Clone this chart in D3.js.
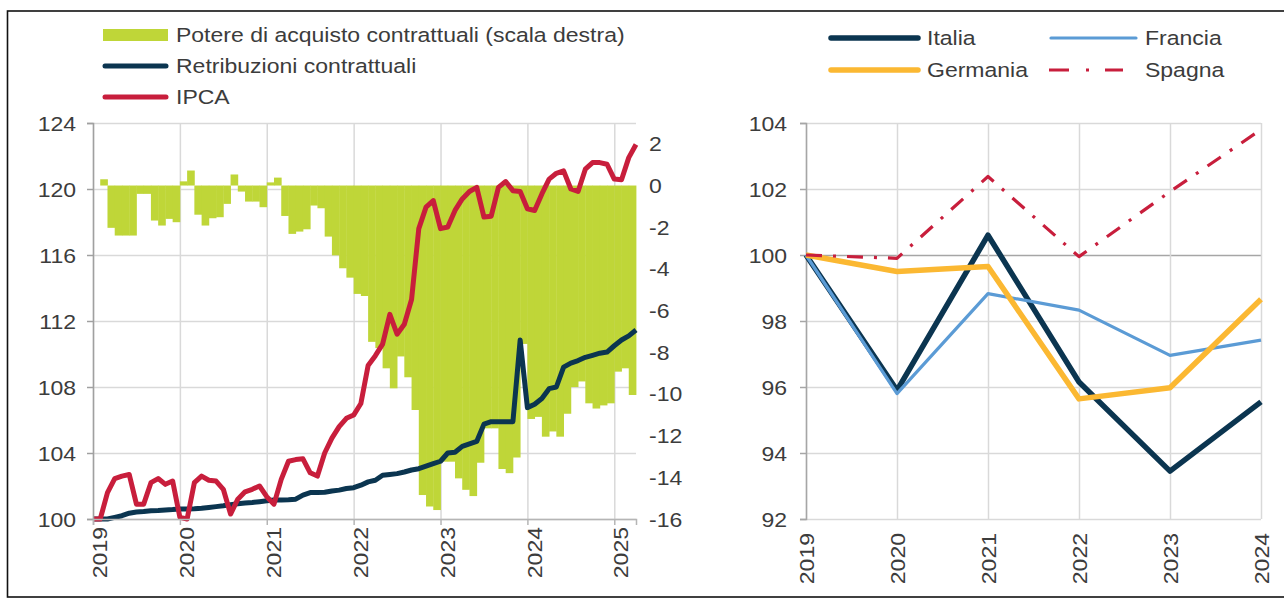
<!DOCTYPE html>
<html><head><meta charset="utf-8">
<script src="https://cdn.jsdelivr.net/npm/d3@7"></script>
<style>
body{margin:0;background:#fff}
svg{display:block}
text{font-family:"Liberation Sans",Arial,sans-serif;}
</style>
</head><body>
<svg id="c" width="1284" height="601"></svg>
<script>
// ---------- DATA: left chart (monthly, Jan 2019 - Apr 2025) ----------
const leftYears = [2019, 2020, 2021, 2022, 2023, 2024, 2025];
const leftTicks = [100, 104, 108, 112, 116, 120, 124];
const rightTicks = [-16, -14, -12, -10, -8, -6, -4, -2, 0, 2];

const ipca = [
  100.0, 100.0, 101.6, 102.45, 102.6, 102.7, 100.9, 100.9, 102.2, 102.45, 102.1, 102.3,
  100.1, 100.0, 102.2, 102.6, 102.35, 102.3, 101.8, 100.3, 101.2, 101.65, 101.8, 102.0,
  101.35, 100.9, 102.4, 103.5, 103.6, 103.65, 102.8, 102.6, 104.0, 104.9, 105.6, 106.1,
  106.3, 107.0, 109.3, 109.9, 110.6, 112.4, 111.2, 111.8, 113.3, 117.6, 118.9, 119.3,
  117.6, 117.7, 118.7, 119.4, 119.85, 120.1, 118.3, 118.35, 120.1, 120.45, 119.9, 119.85,
  118.8, 118.7, 119.7, 120.6, 120.95, 121.1, 120.0, 119.85, 121.2, 121.6, 121.6, 121.5,
  120.6, 120.56, 121.9, 122.7
];
const retribuzioni = [
  100.0, 100.0, 100.0, 100.1, 100.2, 100.35, 100.42, 100.45, 100.5, 100.52, 100.55, 100.57,
  100.6, 100.6, 100.62, 100.65, 100.7, 100.75, 100.8, 100.87, 100.93, 100.97, 101.0, 101.05,
  101.1, 101.15, 101.15, 101.17, 101.2, 101.45, 101.6, 101.6, 101.62, 101.7, 101.75, 101.85,
  101.9, 102.05, 102.25, 102.35, 102.65, 102.7, 102.75, 102.85, 102.97, 103.05, 103.2, 103.35,
  103.5, 104.0, 104.05, 104.4, 104.55, 104.7, 105.75, 105.9, 105.9, 105.9, 105.9, 110.85,
  106.75, 106.95, 107.3, 107.9, 108.0, 109.2, 109.45, 109.6, 109.8, 109.92, 110.05, 110.12,
  110.5, 110.85, 111.1, 111.45
];
// purchasing power (right scale), Jan 2019 - Mar 2025
const potere = [
  0, 0.3, -2.03, -2.4, -2.4, -2.4, -0.4, -0.4, -1.68, -1.92, -1.6, -1.76,
  0.2, 0.72, -1.4, -1.92, -1.57, -1.52, -0.88, 0.53, -0.29, -0.77, -0.77, -1.04,
  0.15, 0.38, -1.46, -2.32, -2.21, -2.1, -0.96, -1.09, -2.45, -3.35, -3.97, -4.42,
  -5.2, -5.3, -7.5, -7.8, -8.77, -9.73, -8.2, -9.2, -10.77, -14.85, -15.4, -15.57,
  -13.25, -13.25, -14.05, -14.6, -14.9, -13.3, -11.65, -11.65, -13.6, -13.8, -13.05, -7.6,
  -11.2, -11.1, -12.05, -11.8, -12.05, -10.95, -9.67, -9.4, -10.45, -10.7, -10.55, -10.45,
  -8.93, -8.77, -10.05
];

// ---------- DATA: right chart (annual) ----------
const years = [2019, 2020, 2021, 2022, 2023, 2024];
const rTicks = [92, 94, 96, 98, 100, 102, 104];
const italia   = [100, 95.9, 100.6, 96.15, 93.45, 95.55];
const francia  = [100, 95.8, 98.83, 98.33, 96.96, 97.42];
const germania = [100, 99.5, 99.65, 95.64, 95.98, 98.66];
const spagna   = [100, 99.9, 102.38, 99.95, 101.92, 103.8];

// ---------- STYLE ----------
const FS = 19.5, SX = 1.18, TXT = "#3c3c3c", GRID = "#d9d9d9";
const C_GREEN = "#bfd638", C_NAVY = "#0b3550", C_RED = "#c81e3c",
      C_BLUE = "#5b9bd5", C_GOLD = "#fbb832";

const svg = d3.select("#c");
svg.append("rect").attr("width", 1284).attr("height", 601).attr("fill", "#fff");
// frame
svg.append("rect").attr("x", 7.5).attr("y", 11).attr("width", 1300).attr("height", 586)
  .attr("fill", "none").attr("stroke", "#111").attr("stroke-width", 1.6);

function styleText(sel, tx, ty, rot, anchor, dy) {
  sel.attr("x", null).attr("y", null)
     .attr("dy", dy).attr("text-anchor", anchor)
     .attr("font-size", FS).attr("fill", TXT)
     .attr("transform", `translate(${tx},${ty}) rotate(${rot}) scale(${SX},1)`);
}

// ================= LEFT CHART =================
const L = {x0: 93, x1: 636, y0: 123, y1: 519};
const xL = d3.scaleLinear().domain([0, ipca.length - 1]).range([L.x0, L.x1]);
const yL = d3.scaleLinear().domain([100, 124]).range([L.y1, L.y0]);
const yR = d3.scaleLinear().domain([-16, 3]).range([L.y1, L.y0]);
const yearIdx = leftYears.map((y, i) => i * 12);

const gl = svg.append("g");
// grid
const gh = gl.append("g").attr("transform", `translate(${L.x0},0)`)
  .call(d3.axisLeft(yL).tickValues(leftTicks).tickSize(-(L.x1 - L.x0)).tickFormat(""));
gh.select(".domain").remove();
gh.selectAll("line").attr("stroke", GRID).attr("stroke-width", 1.5);
const gv = gl.append("g").attr("transform", `translate(0,${L.y1})`)
  .call(d3.axisBottom(xL).tickValues(yearIdx).tickSize(-(L.y1 - L.y0)).tickFormat(""));
gv.select(".domain").remove();
gv.selectAll("line").attr("stroke", GRID).attr("stroke-width", 1.5);

// bars
gl.append("g").selectAll("rect").data(potere).join("rect")
  .attr("x", (d, i) => xL(i))
  .attr("width", (d, i) => xL(i + 1) - xL(i) + 0.4)
  .attr("y", d => Math.min(yR(0), yR(d)))
  .attr("height", d => Math.abs(yR(d) - yR(0)))
  .attr("fill", C_GREEN);

// lines
const lineL = d3.line().x((d, i) => xL(i)).y(d => yL(d));
gl.append("path").datum(retribuzioni).attr("d", lineL).attr("fill", "none")
  .attr("stroke", C_NAVY).attr("stroke-width", 5).attr("stroke-linejoin", "round");
gl.append("path").datum(ipca).attr("d", lineL).attr("fill", "none")
  .attr("stroke", C_RED).attr("stroke-width", 5).attr("stroke-linejoin", "round");

// axes
const ayl = gl.append("g").attr("transform", `translate(${L.x0},0)`)
  .call(d3.axisLeft(yL).tickValues(leftTicks).tickSize(6).tickFormat(d => String(d)));
ayl.select(".domain").attr("stroke", "#a0a0a0").attr("stroke-width", 1.5);
ayl.selectAll("line").attr("stroke", "#a0a0a0").attr("stroke-width", 1.5);
ayl.selectAll("text").call(styleText, -17, 0, 0, "end", "0.36em");

const axl = gl.append("g").attr("transform", `translate(0,${L.y1})`)
  .call(d3.axisBottom(xL).tickValues(yearIdx).tickSize(6).tickFormat((d, i) => String(leftYears[i])));
axl.select(".domain").attr("stroke", "#b5b5b5").attr("stroke-width", 1.5);
axl.selectAll("line").attr("stroke", "#b5b5b5").attr("stroke-width", 1.5);
axl.selectAll("text").call(styleText, 0, 8, -90, "end", "0.7em");

const ayr = gl.append("g").attr("transform", `translate(${L.x1},0)`)
  .call(d3.axisRight(yR).tickValues(rightTicks).tickSize(0).tickFormat(d => String(d)));
ayr.select(".domain").remove();
ayr.selectAll("text").call(styleText, 13, 0, 0, "start", "0.36em");

// legend (left)
const lg = svg.append("g");
lg.append("rect").attr("x", 103).attr("y", 29).attr("width", 65).attr("height", 12).attr("fill", C_GREEN);
[[C_NAVY, 66], [C_RED, 97]].forEach(([c, y]) => {
  lg.append("line").attr("x1", 105).attr("x2", 166).attr("y1", y).attr("y2", y)
    .attr("stroke", c).attr("stroke-width", 5).attr("stroke-linecap", "round");
});
[["Potere di acquisto contrattuali (scala destra)", 35], ["Retribuzioni contrattuali", 66], ["IPCA", 97]]
  .forEach(([t, y]) => lg.append("text").text(t).call(styleText, 176, y, 0, "start", "0.36em"));

// ================= RIGHT CHART =================
const R = {x0: 806, x1: 1261, y0: 123, y1: 519};
const xP = d3.scalePoint().domain(years).range([R.x0, R.x1]);
const yP = d3.scaleLinear().domain([92, 104]).range([R.y1, R.y0]);
const gr = svg.append("g");

const rgh = gr.append("g").attr("transform", `translate(${R.x0},0)`)
  .call(d3.axisLeft(yP).tickValues(rTicks).tickSize(-(R.x1 - R.x0)).tickFormat(""));
rgh.select(".domain").remove();
rgh.selectAll("line").attr("stroke", d => d === 100 ? "#a6a6a6" : GRID).attr("stroke-width", 1.5);
const rgv = gr.append("g").attr("transform", `translate(0,${R.y1})`)
  .call(d3.axisBottom(xP).tickValues(years).tickSize(-(R.y1 - R.y0)).tickFormat(""));
rgv.select(".domain").remove();
rgv.selectAll("line").attr("stroke", GRID).attr("stroke-width", 1.5);

const ary = gr.append("g").attr("transform", `translate(${R.x0},0)`)
  .call(d3.axisLeft(yP).tickValues(rTicks).tickSize(6).tickFormat(d => String(d)));
ary.select(".domain").attr("stroke", "#a6a6a6").attr("stroke-width", 1.5);
ary.selectAll("line").attr("stroke", "#a6a6a6").attr("stroke-width", 1.5);
ary.selectAll("text").call(styleText, -19, 0, 0, "end", "0.36em");

const arx = gr.append("g").attr("transform", `translate(0,${R.y1})`)
  .call(d3.axisBottom(xP).tickValues(years).tickSize(0).tickFormat(d => String(d)));
arx.select(".domain").remove();
arx.selectAll("text").call(styleText, 0, 14, -90, "end", "0.36em");

const lineR = d3.line().x((d, i) => xP(years[i])).y(d => yP(d));
const series = [
  {name: "Italia", data: italia, color: C_NAVY, w: 5.5, dash: null},
  {name: "Francia", data: francia, color: C_BLUE, w: 3.2, dash: null},
  {name: "Germania", data: germania, color: C_GOLD, w: 5.5, dash: null},
  {name: "Spagna", data: spagna, color: C_RED, w: 3.2, dash: "16,11,3,11"}
];
series.forEach(s => {
  gr.append("path").datum(s.data).attr("d", lineR).attr("fill", "none")
    .attr("stroke", s.color).attr("stroke-width", s.w)
    .attr("stroke-linejoin", "round")
    .attr("stroke-dasharray", s.dash);
});

// legend (right)
const rl = svg.append("g");
const rleg = [
  {s: series[0], x: 831, x2: 918, y: 38},
  {s: series[1], x: 1051, x2: 1136, y: 38},
  {s: series[2], x: 831, x2: 918, y: 70},
  {s: series[3], x: 1049, x2: 1123, y: 70}
];
rleg.forEach(o => {
  rl.append("line").attr("x1", o.x).attr("x2", o.x2).attr("y1", o.y).attr("y2", o.y)
    .attr("stroke", o.s.color).attr("stroke-width", o.s.w)
    .attr("stroke-linecap", o.s.dash ? "butt" : "round")
    .attr("stroke-dasharray", o.s.dash ? "20,17,3,16" : null);
  rl.append("text").text(o.s.name)
    .call(styleText, o.x < 1000 ? 927 : 1145, o.y, 0, "start", "0.36em");
});
</script>
</body></html>
